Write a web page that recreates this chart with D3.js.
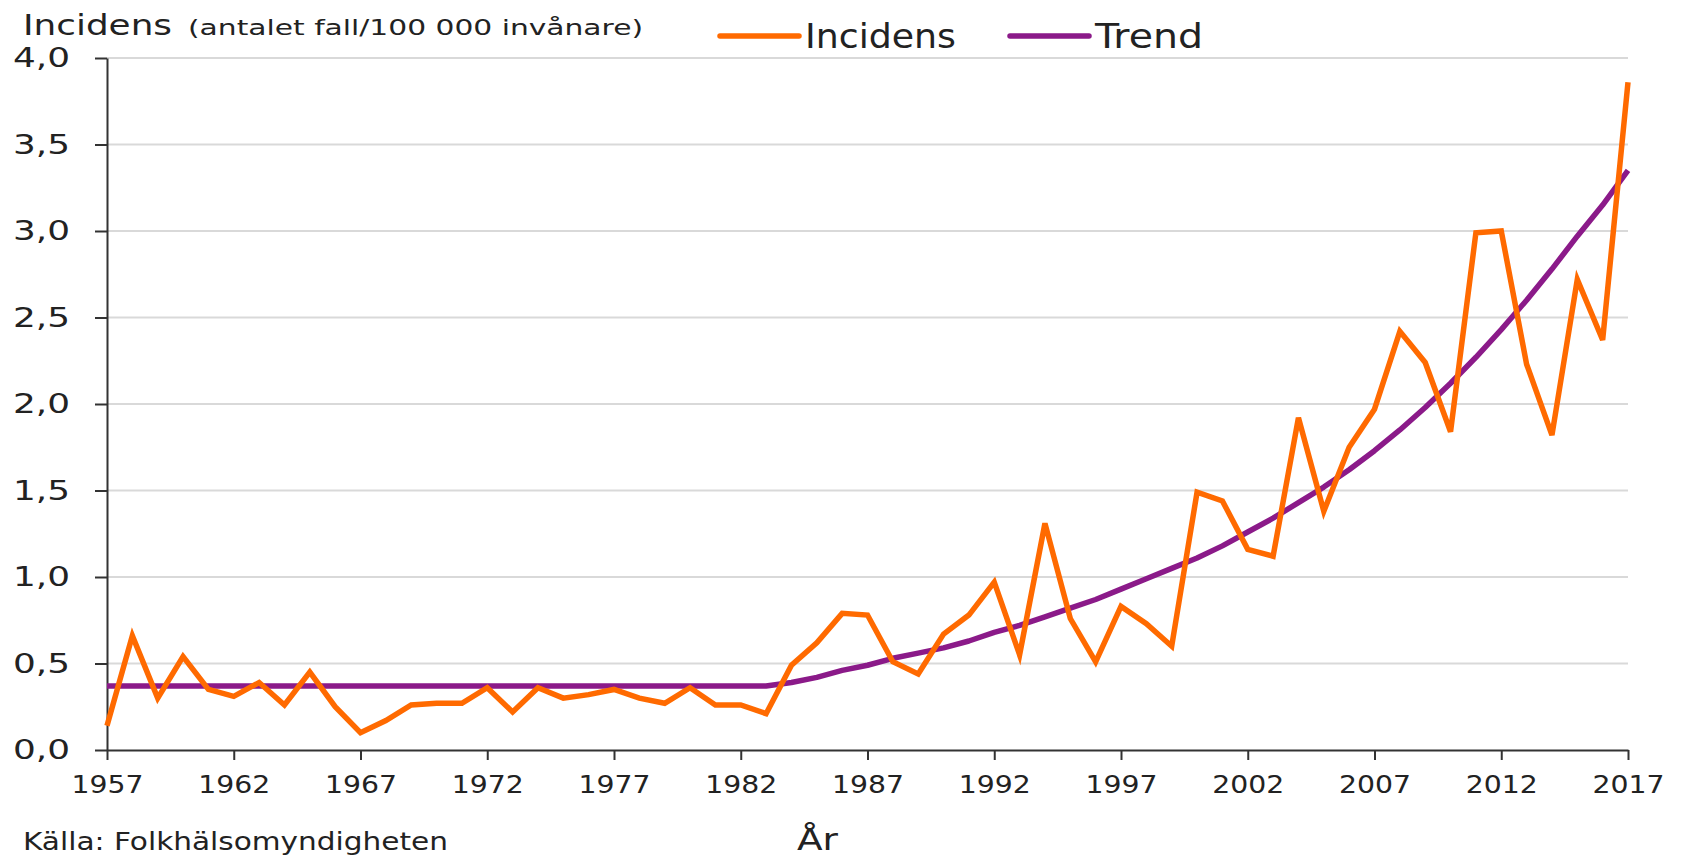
<!DOCTYPE html>
<html>
<head>
<meta charset="utf-8">
<script src="https://cdn.jsdelivr.net/npm/d3@7"></script>
<style>
  body { margin: 0; background: #fff; }
  text { font-family: 'DejaVu Sans', Verdana, sans-serif; fill: #222; }
</style>
</head>
<body>
<div id="chart"></div>
<script>
const years = d3.range(1957, 2018);

const incidens = [
  0.14, 0.66, 0.30, 0.54, 0.35, 0.31, 0.39, 0.26, 0.45, 0.25,
  0.10, 0.17, 0.26, 0.27, 0.27, 0.36, 0.22, 0.36, 0.30, 0.32,
  0.35, 0.30, 0.27, 0.36, 0.26, 0.26, 0.21, 0.49, 0.62, 0.79,
  0.78, 0.51, 0.44, 0.67, 0.78, 0.97, 0.55, 1.31, 0.76, 0.51,
  0.83, 0.73, 0.60, 1.49, 1.44, 1.16, 1.12, 1.92, 1.38, 1.75,
  1.97, 2.42, 2.24, 1.84, 2.99, 3.00, 2.23, 1.82, 2.72, 2.37,
  3.86
];

const trend = [
  0.37, 0.37, 0.37, 0.37, 0.37, 0.37, 0.37, 0.37, 0.37, 0.37,
  0.37, 0.37, 0.37, 0.37, 0.37, 0.37, 0.37, 0.37, 0.37, 0.37,
  0.37, 0.37, 0.37, 0.37, 0.37, 0.37, 0.37, 0.39, 0.42, 0.46,
  0.49, 0.53, 0.56, 0.59, 0.63, 0.68, 0.72, 0.77, 0.82, 0.87,
  0.93, 0.99, 1.05, 1.11, 1.18, 1.26, 1.34, 1.43, 1.52, 1.62,
  1.73, 1.85, 1.98, 2.12, 2.27, 2.43, 2.60, 2.78, 2.97, 3.15,
  3.35
];

const yTicks = [0, 0.5, 1, 1.5, 2, 2.5, 3, 3.5, 4];
const xTicks = [1957, 1962, 1967, 1972, 1977, 1982, 1987, 1992, 1997, 2002, 2007, 2012, 2017];

const width = 1681;
const height = 856;
const margin = { top: 58, right: 53, bottom: 106, left: 107 };

const svg = d3.select('#chart').append('svg')
  .attr('width', width)
  .attr('height', height);

const xScale = d3.scaleLinear()
  .domain([1957, 2017])
  .range([margin.left, width - margin.right]);

const yScale = d3.scaleLinear()
  .domain([0, 4])
  .range([height - margin.bottom, margin.top]);

// the reference text looks stretched sideways, so fit text to measured widths
function stretch(sel, w) {
  sel.attr('textLength', w).attr('lengthAdjust', 'spacingAndGlyphs');
}

// gridlines
svg.append('g')
  .selectAll('line')
  .data(yTicks.filter(d => d > 0))
  .enter()
  .append('line')
  .attr('x1', margin.left)
  .attr('x2', width - margin.right)
  .attr('y1', d => yScale(d))
  .attr('y2', d => yScale(d))
  .attr('stroke', '#d9d9d9')
  .attr('stroke-width', 2);

// y axis
const yAxis = svg.append('g')
  .attr('transform', `translate(${margin.left}, 0)`)
  .call(d3.axisLeft(yScale)
    .tickValues(yTicks)
    .tickSize(12)
    .tickSizeOuter(0)
    .tickFormat(d => d3.format('.1f')(d).replace('.', ',')));
yAxis.select('.domain').attr('stroke', '#333').attr('stroke-width', 2);
yAxis.selectAll('.tick line').attr('stroke', '#333').attr('stroke-width', 2);
yAxis.selectAll('.tick text')
  .attr('x', -37)
  .attr('font-size', 27)
  .attr('fill', '#222')
  .call(stretch, 57);

// x axis
const xAxis = svg.append('g')
  .attr('transform', `translate(0, ${yScale(0)})`)
  .call(d3.axisBottom(xScale)
    .tickValues(xTicks)
    .tickSize(10)
    .tickSizeOuter(0)
    .tickFormat(d3.format('d')));
xAxis.select('.domain').attr('stroke', '#333').attr('stroke-width', 2);
xAxis.selectAll('.tick line').attr('stroke', '#333').attr('stroke-width', 2);
xAxis.selectAll('.tick text')
  .attr('y', 25)
  .attr('dy', 0)
  .attr('dominant-baseline', 'hanging')
  .attr('font-size', 25)
  .attr('fill', '#222')
  .call(stretch, 72);

const line = d3.line()
  .x((d, i) => xScale(years[i]))
  .y(d => yScale(d));

svg.append('path')
  .datum(trend)
  .attr('fill', 'none')
  .attr('stroke', '#8b1a89')
  .attr('stroke-width', 5.5)
  .attr('stroke-linejoin', 'round')
  .attr('d', line);

svg.append('path')
  .datum(incidens)
  .attr('fill', 'none')
  .attr('stroke', '#ff6a00')
  .attr('stroke-width', 5.5)
  .attr('stroke-linejoin', 'miter')
  .attr('d', line);

// title
svg.append('text')
  .attr('x', 23)
  .attr('y', 35)
  .attr('font-size', 28)
  .text('Incidens')
  .call(stretch, 149);

svg.append('text')
  .attr('x', 188)
  .attr('y', 35)
  .attr('font-size', 21)
  .text('(antalet fall/100 000 invånare)')
  .call(stretch, 455);

// legend
const legend = [
  { name: 'Incidens', color: '#ff6a00', x: 720, w: 151 },
  { name: 'Trend', color: '#8b1a89', x: 1010, w: 108 }
];
const lg = svg.append('g');
lg.selectAll('line')
  .data(legend)
  .enter()
  .append('line')
  .attr('x1', d => d.x)
  .attr('x2', d => d.x + 79)
  .attr('y1', 36)
  .attr('y2', 36)
  .attr('stroke', d => d.color)
  .attr('stroke-width', 5.5)
  .attr('stroke-linecap', 'round');
lg.selectAll('text')
  .data(legend)
  .enter()
  .append('text')
  .attr('x', d => d.x + 85)
  .attr('y', 48)
  .attr('font-size', 34)
  .attr('textLength', d => d.w)
  .attr('lengthAdjust', 'spacingAndGlyphs')
  .text(d => d.name);

// axis title and source
svg.append('text')
  .attr('x', 797)
  .attr('y', 850)
  .attr('font-size', 30)
  .text('År')
  .call(stretch, 41);

svg.append('text')
  .attr('x', 23)
  .attr('y', 850)
  .attr('font-size', 24)
  .text('Källa:  Folkhälsomyndigheten')
  .call(stretch, 425);
</script>
</body>
</html>
